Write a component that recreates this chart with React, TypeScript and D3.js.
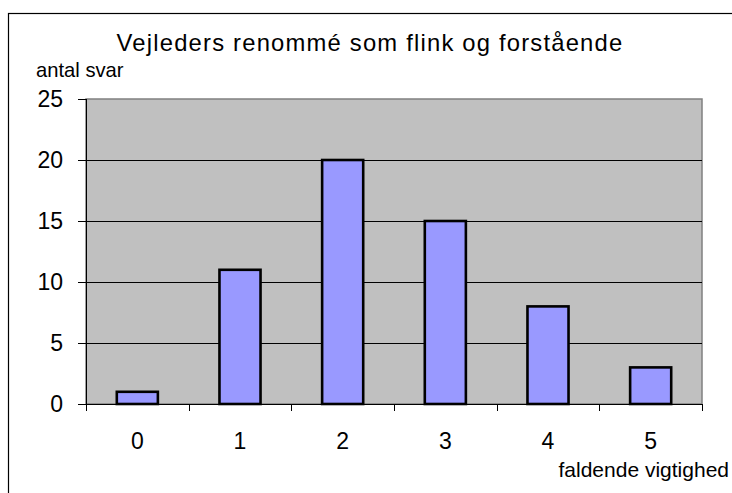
import React from "react";
import * as d3 from "d3";

const categories = ["0", "1", "2", "3", "4", "5"];
const values = [1, 11, 20, 15, 8, 3];
const yTicks = [0, 5, 10, 15, 20, 25];
const title = "Vejleders renommé som flink og forstående";
const yTitle = "antal svar";
const xTitle = "faldende vigtighed";

const W = 732;
const H = 493;
const plot = { left: 86, right: 702, top: 99, bottom: 404 };
const font = "'Liberation Sans', Arial, sans-serif";

export default function App() {
  const x = d3.scaleBand<string>().domain(categories).range([plot.left, plot.right]).padding(0);
  const y = d3.scaleLinear().domain([0, 25]).range([plot.bottom, plot.top]);
  const bw = x.bandwidth();

  return (
    <svg width={W} height={H} style={{ position: "absolute", left: 0, top: 0 }} fontFamily={font}>
      <rect x={0} y={0} width={W} height={H} fill="#fff" />
      <rect x={8.5} y={13.5} width={900} height={700} fill="#fff" stroke="#000" strokeWidth={1.2} />
      <text x={370} y={51} textAnchor="middle" fontSize={23.8} letterSpacing={1.2} fill="#000">{title}</text>
      <text x={36} y={77} fontSize={20.2} fill="#000">{yTitle}</text>
      <text x={729} y={477} textAnchor="end" fontSize={21} fill="#000">{xTitle}</text>

      <rect x={plot.left} y={plot.top} width={plot.right - plot.left} height={plot.bottom - plot.top} fill="#C0C0C0" stroke="#808080" strokeWidth={1.5} />
      {yTicks.filter((t) => t > 0 && t < 25).map((t) => (
        <line key={"g" + t} x1={plot.left} x2={plot.right} y1={Math.round(y(t)) + 0.5} y2={Math.round(y(t)) + 0.5} stroke="#000" strokeWidth={1} />
      ))}
      {categories.map((c, i) => (
        <rect key={"b" + c} x={x(c)! + bw * 0.3} y={y(values[i])} width={bw * 0.4} height={y(0) - y(values[i])} fill="#9999FF" stroke="#000" strokeWidth={2.6} />
      ))}
      <line x1={plot.left} x2={plot.right} y1={plot.bottom + 0.5} y2={plot.bottom + 0.5} stroke="#000" strokeWidth={1} />
      <line x1={plot.left + 0.5} x2={plot.left + 0.5} y1={plot.top} y2={plot.bottom + 7} stroke="#000" strokeWidth={1} />
      {yTicks.map((t) => (
        <g key={"y" + t}>
          <line x1={plot.left - 8} x2={plot.left} y1={Math.round(y(t)) + 0.5} y2={Math.round(y(t)) + 0.5} stroke="#000" strokeWidth={1} />
          <text x={63} y={y(t)} textAnchor="end" dominantBaseline="central" fontSize={23} fill="#000">{t}</text>
        </g>
      ))}
      {categories.concat([""]).map((c, i) => {
        const xx = plot.left + i * bw;
        return <line key={"xt" + i} x1={Math.round(xx) + 0.5} x2={Math.round(xx) + 0.5} y1={plot.bottom} y2={plot.bottom + 7} stroke="#000" strokeWidth={1} />;
      })}
      {categories.map((c) => (
        <text key={"xl" + c} x={x(c)! + bw / 2} y={449} textAnchor="middle" fontSize={23} fill="#000">{c}</text>
      ))}
    </svg>
  );
}
